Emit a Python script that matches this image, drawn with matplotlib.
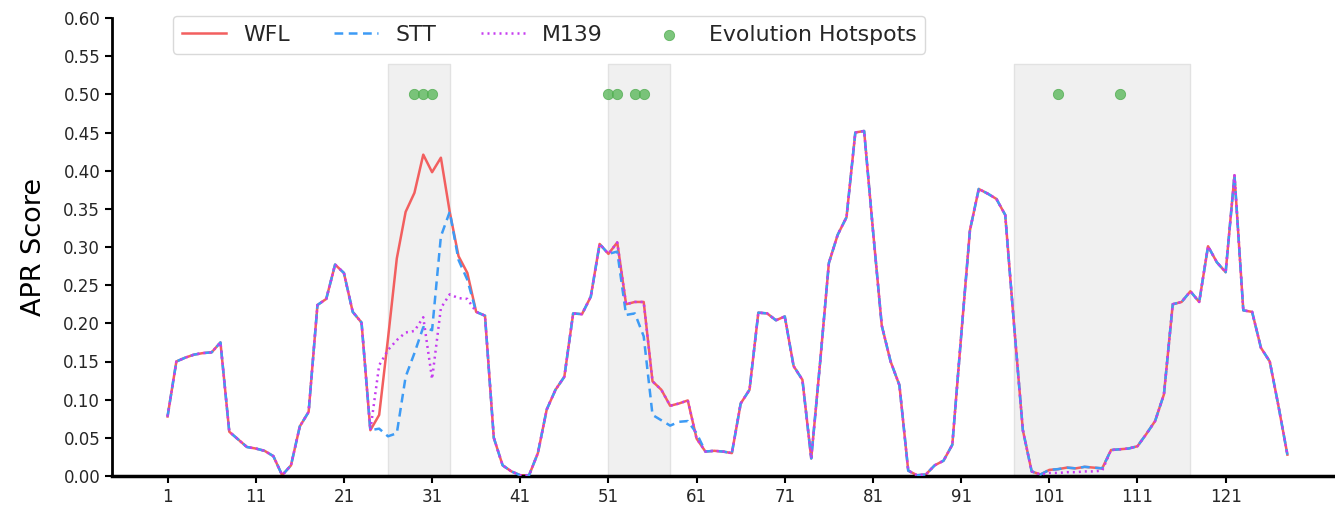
import numpy as np
import matplotlib
matplotlib.use("Agg")
import matplotlib.pyplot as plt

# positions 1..128
positions = np.arange(1, 129)

wfl = [0.078, 0.150, 0.155, 0.159, 0.161, 0.162, 0.175, 0.058, 0.048, 0.038,
       0.036, 0.033, 0.026, 0.001, 0.014, 0.065, 0.084, 0.224, 0.232, 0.277,
       0.266, 0.215, 0.201, 0.060, 0.080, 0.180, 0.285, 0.346, 0.371, 0.421,
       0.398, 0.417, 0.346, 0.288, 0.266, 0.215, 0.210, 0.050, 0.014, 0.006,
       0.001, 0.001, 0.030, 0.087, 0.113, 0.130, 0.213, 0.212, 0.235, 0.304,
       0.291, 0.306, 0.225, 0.228, 0.228, 0.124, 0.113, 0.092, 0.095, 0.099,
       0.049, 0.032, 0.033, 0.032, 0.030, 0.095, 0.113, 0.214, 0.213, 0.204,
       0.209, 0.144, 0.126, 0.023, 0.148, 0.279, 0.316, 0.339, 0.450, 0.452,
       0.322, 0.197, 0.150, 0.119, 0.007, 0.001, 0.002, 0.014, 0.020, 0.041,
       0.183, 0.322, 0.376, 0.370, 0.363, 0.342, 0.198, 0.060, 0.006, 0.002,
       0.008, 0.009, 0.011, 0.010, 0.012, 0.011, 0.010, 0.034, 0.035, 0.036,
       0.039, 0.055, 0.072, 0.107, 0.225, 0.228, 0.242, 0.228, 0.301, 0.280,
       0.267, 0.394, 0.217, 0.215, 0.168, 0.150, 0.091, 0.028]

# STT and M139 differ from WFL only in a few stretches
stt = list(wfl)
stt[24:36] = [0.062, 0.052, 0.056, 0.130, 0.161, 0.195, 0.191, 0.314, 0.346,
              0.283, 0.257, 0.215]
stt[51:61] = [0.294, 0.211, 0.213, 0.183, 0.080, 0.073, 0.066, 0.071, 0.072,
              0.056]

m139 = list(wfl)
m139[24:36] = [0.145, 0.165, 0.178, 0.188, 0.190, 0.208, 0.127, 0.220, 0.238,
               0.233, 0.232, 0.215]
m139[100:107] = [0.004, 0.004, 0.005, 0.005, 0.006, 0.006, 0.007]

hotspot_x = [29, 30, 31, 51, 52, 54, 55, 102, 109]
hotspot_y = [0.5] * len(hotspot_x)

regions = [(26, 33), (51, 58), (97, 117)]
region_top = 0.54

plt.rcParams["text.color"] = "#262626"
plt.rcParams["xtick.labelcolor"] = "#262626"
plt.rcParams["ytick.labelcolor"] = "#262626"

fig = plt.figure(figsize=(13.35, 5.08), dpi=100)
ax = fig.add_axes([112 / 1335, 32 / 508, 1 - 112 / 1335, 458 / 508])

for start, end in regions:
    ax.fill_between([start, end], 0, region_top, color="#f0f0f0",
                    edgecolor="#e2e2e2", linewidth=1, zorder=0)

ax.plot(positions, wfl, color="#f25f5f", lw=1.8, label="WFL", zorder=2)
ax.plot(positions, stt, color="#3d9bf5", lw=1.8, ls=(0, (3.5, 2.2)), label="STT", zorder=3)
ax.plot(positions, m139, color="#c63cf0", lw=1.8, ls=(0, (0.8, 1.6)), label="M139", zorder=4)
ax.scatter(hotspot_x, hotspot_y, s=55, color="#5cb85c", alpha=0.8,
           edgecolors="#4caa4c", linewidths=0.6, label="Evolution Hotspots", zorder=5)

ax.set_xlim(-5.3, 133.4)
ax.set_ylim(0, 0.6)
ax.set_xticks(np.arange(1, 122, 10))
ax.set_yticks(np.arange(0, 0.601, 0.05))
ax.set_yticklabels([f"{v:.2f}" for v in np.arange(0, 0.601, 0.05)])
ax.tick_params(labelsize=12, length=5, width=1.5)
ax.set_ylabel("APR Score", fontsize=19.5, labelpad=12)

ax.spines["top"].set_visible(False)
ax.spines["right"].set_visible(False)
ax.spines["left"].set_linewidth(2)
ax.spines["bottom"].set_linewidth(2.5)

leg = ax.legend(ncol=4, loc="upper left", bbox_to_anchor=(173 / 1335, 492 / 508),
                bbox_transform=fig.transFigure, borderaxespad=0, fontsize=15.85,
                frameon=True, handlelength=2.0, columnspacing=2.0)
leg.get_frame().set_edgecolor("#d0d0d0")

fig.savefig("out.png", dpi=100)
